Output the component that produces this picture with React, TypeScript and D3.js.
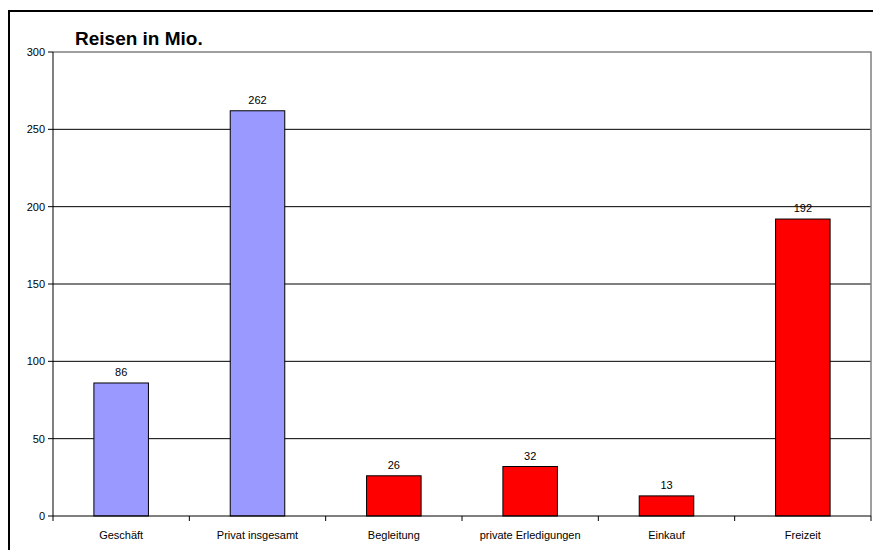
import React from "react";
import * as d3 from "d3";

const categories = [
  "Geschäft",
  "Privat insgesamt",
  "Begleitung",
  "private Erledigungen",
  "Einkauf",
  "Freizeit",
];
const values = [86, 262, 26, 32, 13, 192];
const barColors = ["#9999FF", "#9999FF", "#FF0000", "#FF0000", "#FF0000", "#FF0000"];
const yTicks = [0, 50, 100, 150, 200, 250, 300];
const title = "Reisen in Mio.";

const W = 873;
const H = 550;
const plot = { left: 53, right: 871, top: 52, bottom: 516 };
const font = "'Liberation Sans', Arial, sans-serif";

export default function App() {
  const y = d3.scaleLinear().domain([0, 300]).range([plot.bottom, plot.top]);
  const x = d3
    .scaleBand<string>()
    .domain(categories)
    .range([plot.left, plot.right])
    .paddingInner(0.6)
    .paddingOuter(0.3);
  const step = x.step();
  const boundaries = d3.range(categories.length + 1).map((i) => plot.left + i * step);

  return (
    <svg
      width={W}
      height={H}
      style={{ position: "absolute", left: 0, top: 0, background: "#fff" }}
      fontFamily={font}
    >
      {/* chart frame */}
      <path d={`M9,${H} V11 H${W}`} fill="none" stroke="#000" strokeWidth={2} />

      {/* gridlines */}
      {yTicks
        .filter((t) => t > 0 && t < 300)
        .map((t) => (
          <line
            key={`g${t}`}
            x1={plot.left}
            x2={plot.right}
            y1={y(t)}
            y2={y(t)}
            stroke="#000"
            strokeWidth={1}
          />
        ))}

      {/* plot area border (top and right) */}
      <path
        d={`M${plot.left},${y(300)} H${plot.right} V${plot.bottom}`}
        fill="none"
        stroke="#808080"
        strokeWidth={1.5}
      />

      {/* bars */}
      {categories.map((c, i) => (
        <rect
          key={c}
          x={x(c)}
          y={y(values[i])}
          width={x.bandwidth()}
          height={y(0) - y(values[i])}
          fill={barColors[i]}
          stroke="#000"
          strokeWidth={1}
        />
      ))}

      {/* value labels */}
      {categories.map((c, i) => (
        <text
          key={`v${c}`}
          x={(x(c) as number) + x.bandwidth() / 2}
          y={y(values[i]) - 7}
          textAnchor="middle"
          fontSize={11}
          fill="#000"
        >
          {values[i]}
        </text>
      ))}

      {/* y axis */}
      <line x1={plot.left} x2={plot.left} y1={plot.top} y2={plot.bottom} stroke="#000" strokeWidth={1} />
      {yTicks.map((t) => (
        <g key={`y${t}`}>
          <line x1={plot.left - 5} x2={plot.left} y1={y(t)} y2={y(t)} stroke="#000" />
          <text x={45} y={y(t) + 4} textAnchor="end" fontSize={11} fill="#000">
            {t}
          </text>
        </g>
      ))}

      {/* x axis */}
      <line x1={plot.left} x2={plot.right} y1={plot.bottom} y2={plot.bottom} stroke="#000" strokeWidth={1} />
      {boundaries.map((bx, i) => (
        <line key={`xt${i}`} x1={bx} x2={bx} y1={plot.bottom} y2={plot.bottom + 5} stroke="#000" />
      ))}
      {categories.map((c) => (
        <text
          key={`xl${c}`}
          x={(x(c) as number) + x.bandwidth() / 2}
          y={539}
          textAnchor="middle"
          fontSize={11}
          fill="#000"
        >
          {c}
        </text>
      ))}

      {/* title */}
      <text x={75} y={45} fontSize={19} fontWeight="bold" fill="#000">
        {title}
      </text>
    </svg>
  );
}
